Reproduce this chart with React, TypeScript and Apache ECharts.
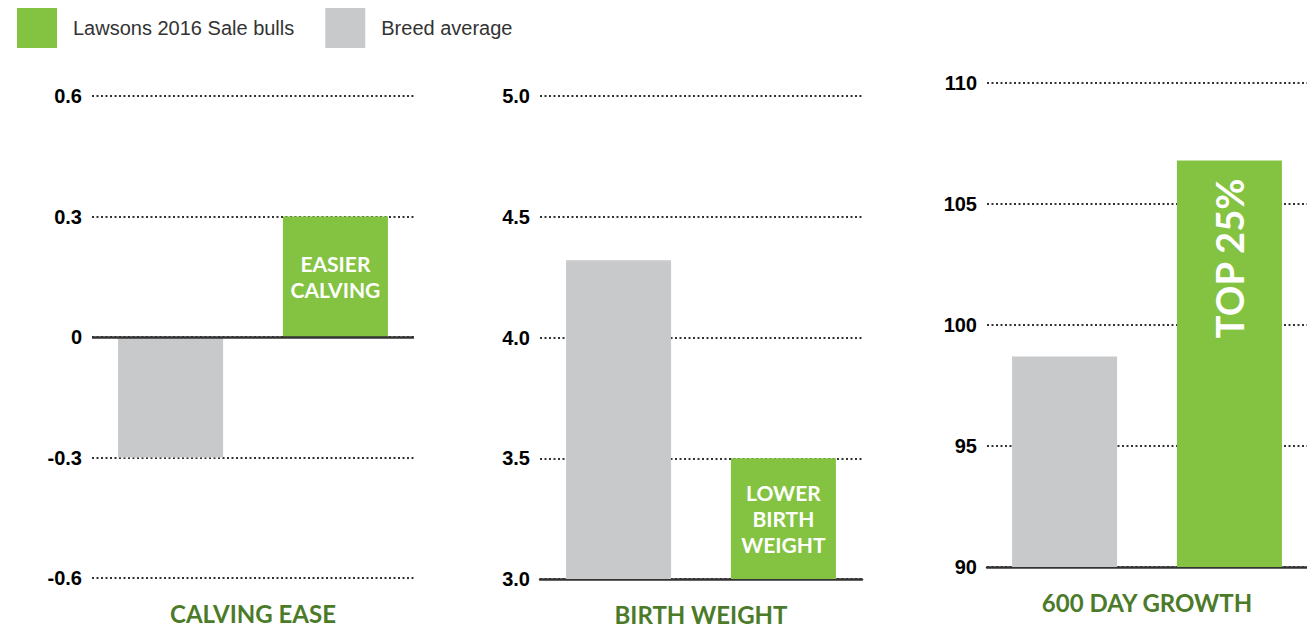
import React, { useEffect, useRef } from "react";
import * as echarts from "echarts";

const categories = ["CALVING EASE", "BIRTH WEIGHT", "600 DAY GROWTH"];
const breedAverage = [-0.3, 4.32, 98.7];
const lawsonsBulls = [0.3, 3.5, 106.8];
const barLabels = ["EASIER\nCALVING", "LOWER\nBIRTH\nWEIGHT", "TOP 25%"];
const yMin = [-0.6, 3.0, 90];
const yMax = [0.6, 5.0, 110];
const yInterval = [0.3, 0.5, 5];
const yDecimals = [-1, 1, 0];

const LAWSONS = "Lawsons 2016 Sale bulls";
const BREED = "Breed average";
const GREEN = "#84c341";
const GRAY = "#c8c9cb";
const TITLE_GREEN = "#4b7b29";

const grids = [
  { left: 92, top: 96, width: 322, height: 482 },
  { left: 540, top: 96, width: 322, height: 483 },
  { left: 987, top: 83, width: 332, height: 484 },
];

export default function App() {
  const ref = useRef<HTMLDivElement>(null);
  useEffect(() => {
    document.body.style.margin = "0";
    const chart = echarts.init(ref.current!, null, { renderer: "svg" });
    const series: any[] = [];
    categories.forEach((cat, i) => {
      series.push({
        type: "bar",
        name: BREED,
        xAxisIndex: i,
        yAxisIndex: i,
        data: [breedAverage[i]],
        barWidth: 105,
        barGap: "57%",
        itemStyle: { color: GRAY },
      });
      const s: any = {
        type: "bar",
        name: LAWSONS,
        xAxisIndex: i,
        yAxisIndex: i,
        data: [lawsonsBulls[i]],
        barWidth: 105,
        barGap: "57%",
        itemStyle: { color: GREEN },
        label: {
          show: true,
          formatter: barLabels[i],
          color: "#fff",
          fontFamily: "Lato",
          fontWeight: "bold",
          fontSize: 21,
          lineHeight: 26,
          position: "inside",
          align: "center",
          verticalAlign: "middle",
        },
      };
      if (i === 2) {
        s.label = {
          ...s.label,
          rotate: 90,
          fontSize: 38,
          position: ["50%", 98],
        };
      }
      if (i === 0) {
        s.markLine = {
          symbol: "none",
          silent: true,
          label: { show: false },
          lineStyle: { type: "solid", color: "#333", width: 2.5 },
          data: [{ yAxis: 0 }],
        };
      }
      series.push(s);
    });

    chart.setOption({
      animation: false,
      legend: {
        data: [LAWSONS, BREED],
        left: 12,
        top: 3,
        itemWidth: 40,
        itemHeight: 40,
        itemGap: 31,
        icon: "rect",
        textStyle: {
          fontFamily: "Liberation Sans",
          fontSize: 20,
          color: "#333",
          padding: [0, 0, 0, 11],
        },
      },
      grid: grids.map((g) => ({ ...g, containLabel: false })),
      xAxis: categories.map((cat, i) => ({
        type: "category",
        gridIndex: i,
        data: [cat],
        axisTick: { show: false },
        axisLine: {
          show: i !== 0,
          onZero: false,
          lineStyle: { color: "#333", width: 2.5 },
        },
        axisLabel: {
          color: TITLE_GREEN,
          fontFamily: "Lato",
          fontWeight: "bold",
          fontSize: 24,
          margin: 23,
        },
      })),
      yAxis: categories.map((cat, i) => ({
        type: "value",
        gridIndex: i,
        min: yMin[i],
        max: yMax[i],
        interval: yInterval[i],
        axisLine: { show: false },
        axisTick: { show: false },
        splitLine: {
          show: true,
          lineStyle: { type: [2, 2.5], color: "#333", width: 2 },
        },
        axisLabel: {
          color: "#000",
          fontFamily: "Liberation Sans",
          fontWeight: "bold",
          fontSize: 20,
          margin: 10,
          formatter: (v: number) =>
            yDecimals[i] >= 0 ? v.toFixed(yDecimals[i]) : String(Math.round(v * 10) / 10),
        },
      })),
      series,
    });
    return () => chart.dispose();
  }, []);
  return <div ref={ref} style={{ width: 1307, height: 630 }} />;
}
